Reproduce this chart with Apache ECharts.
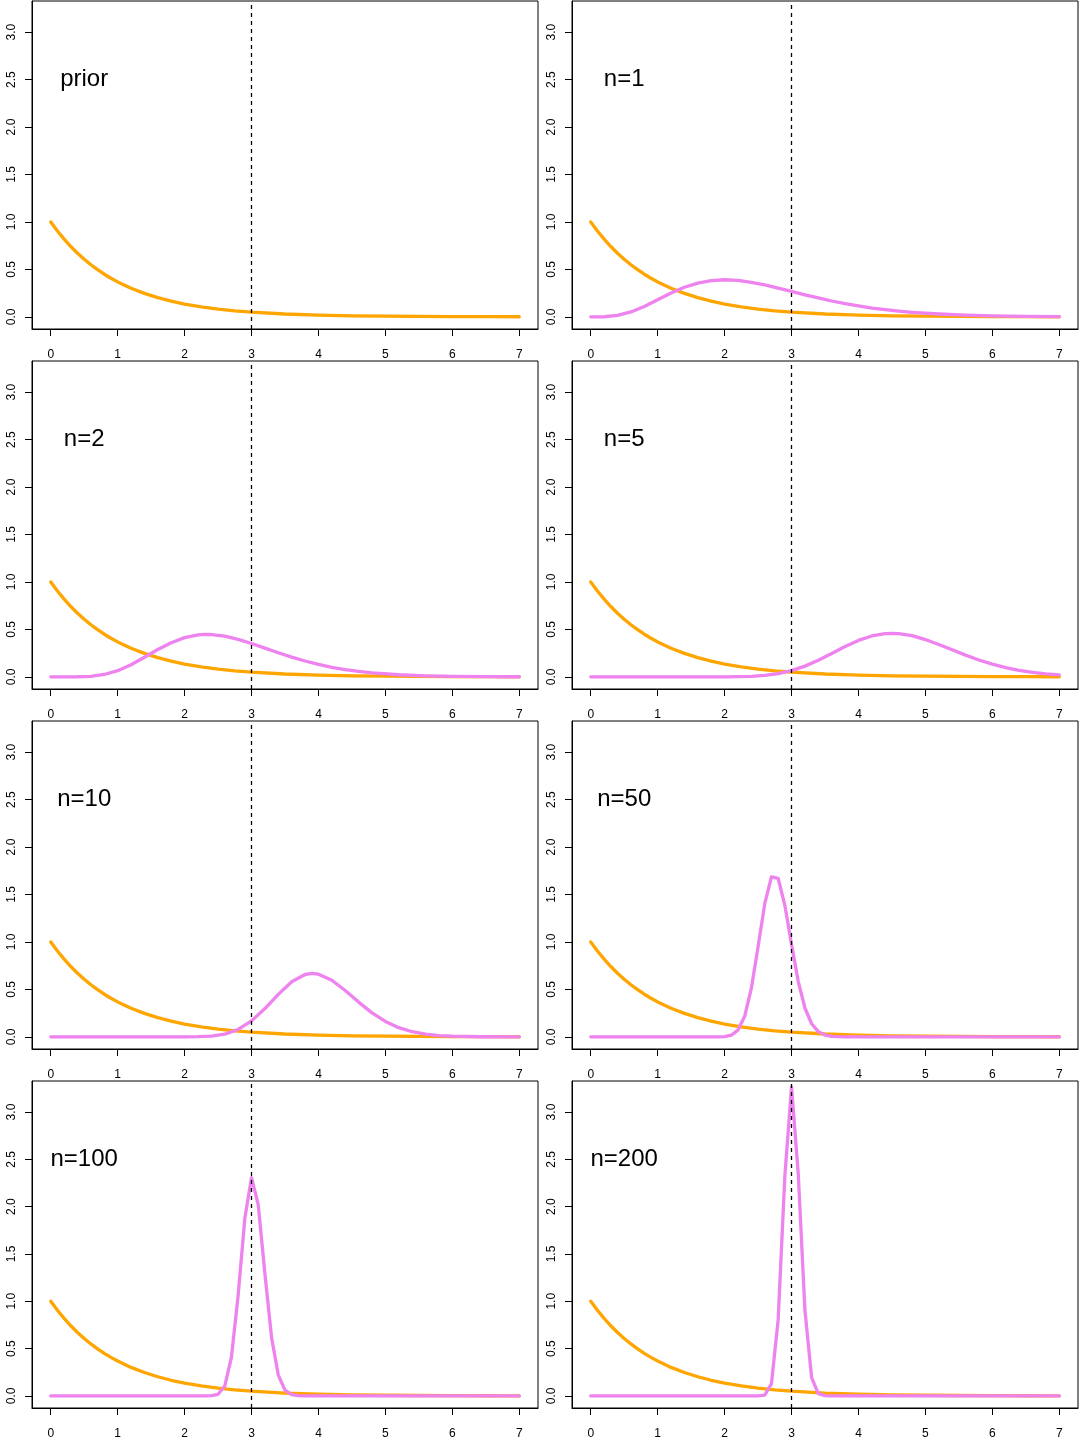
<!DOCTYPE html>
<html>
<head>
<meta charset="utf-8">
<script src="https://cdn.jsdelivr.net/npm/echarts@6/dist/echarts.min.js"></script>
<style>
  html, body { margin: 0; padding: 0; background: #ffffff; }
  #chart { width: 1080px; height: 1440px; }
</style>
</head>
<body>
<div id="chart"></div>
<script>
// ---------------- data ----------------
const xTicks = [0, 1, 2, 3, 4, 5, 6, 7];
const yTicks = [0, 0.5, 1, 1.5, 2, 2.5, 3];
const trueValue = 3;
const panelLabels = ['prior', 'n=1', 'n=2', 'n=5', 'n=10', 'n=50', 'n=100', 'n=200'];
const labelAt = [0.5, 2.5];

const prior = [[0,1.000],[0.1,0.905],[0.2,0.819],[0.3,0.741],[0.4,0.670],[0.5,0.607],[0.6,0.549],[0.7,0.497],[0.8,0.449],[0.9,0.407],[1.0,0.368],[1.2,0.301],[1.4,0.247],[1.6,0.202],[1.8,0.165],[2.0,0.135],[2.25,0.105],[2.5,0.082],[2.75,0.064],[3.0,0.050],[3.5,0.030],[4.0,0.018],[4.5,0.011],[5.0,0.007],[5.5,0.004],[6.0,0.002],[6.5,0.0015],[7.0,0.001]];

const postN1 = [[0,0],[0.2,0.001],[0.4,0.015],[0.6,0.052],[0.8,0.110],[1.0,0.180],[1.2,0.251],[1.4,0.312],[1.6,0.356],[1.8,0.382],[2.0,0.391],[2.2,0.384],[2.4,0.364],[2.6,0.336],[2.8,0.303],[3.0,0.268],[3.2,0.232],[3.4,0.199],[3.6,0.167],[3.8,0.139],[4.0,0.115],[4.2,0.093],[4.4,0.075],[4.6,0.060],[4.8,0.048],[5.2,0.030],[5.6,0.018],[6.0,0.011],[6.5,0.005],[7.0,0.003]];

const postN2 = [[0,0],[0.2,0],[0.4,0.001],[0.6,0.006],[0.8,0.025],[1.0,0.065],[1.2,0.127],[1.4,0.206],[1.6,0.288],[1.8,0.360],[2.0,0.413],[2.2,0.442],[2.3,0.447],[2.4,0.446],[2.6,0.428],[2.8,0.395],[3.0,0.351],[3.2,0.303],[3.4,0.254],[3.6,0.208],[3.8,0.167],[4.0,0.131],[4.2,0.101],[4.4,0.077],[4.6,0.058],[4.8,0.043],[5.2,0.022],[5.6,0.011],[6.0,0.006],[6.5,0.002],[7.0,0.001]];

const postN5 = [[0,0],[1.6,0],[1.8,0.0001],[2.0,0.0005],[2.2,0.002],[2.4,0.006],[2.6,0.015],[2.8,0.034],[3.0,0.066],[3.2,0.113],[3.4,0.174],[3.6,0.246],[3.8,0.319],[4.0,0.384],[4.2,0.431],[4.4,0.456],[4.5,0.459],[4.6,0.456],[4.8,0.434],[5.0,0.393],[5.2,0.341],[5.4,0.285],[5.6,0.229],[5.8,0.178],[6.0,0.134],[6.2,0.098],[6.4,0.069],[6.6,0.048],[6.8,0.032],[7.0,0.021]];

const postN10 = [[0,0],[1.8,0],[2.0,0.0003],[2.2,0.002],[2.4,0.008],[2.6,0.029],[2.8,0.078],[3.0,0.168],[3.2,0.298],[3.4,0.448],[3.6,0.580],[3.8,0.657],[3.9,0.668],[4.0,0.660],[4.2,0.596],[4.4,0.488],[4.6,0.366],[4.8,0.253],[5.0,0.162],[5.2,0.097],[5.4,0.054],[5.6,0.029],[5.8,0.014],[6.0,0.007],[6.4,0.001],[7.0,0]];

const postN50 = [[0,0],[1.8,0],[1.9,0.0004],[2.0,0.003],[2.1,0.017],[2.2,0.071],[2.3,0.217],[2.4,0.513],[2.5,0.949],[2.6,1.403],[2.7,1.686],[2.8,1.671],[2.9,1.386],[3.0,0.973],[3.1,0.585],[3.2,0.304],[3.3,0.138],[3.4,0.055],[3.5,0.019],[3.6,0.006],[3.7,0.002],[3.8,0],[7.0,0]];

const postN100 = [[0,0],[2.3,0],[2.4,0.002],[2.5,0.017],[2.6,0.104],[2.7,0.409],[2.8,1.064],[2.9,1.877],[3.0,2.307],[3.1,2.022],[3.2,1.291],[3.3,0.613],[3.4,0.220],[3.5,0.061],[3.6,0.013],[3.7,0.002],[3.8,0],[7.0,0]];

const postN200 = [[0,0],[2.4,0],[2.5,0.0003],[2.6,0.009],[2.7,0.129],[2.8,0.803],[2.9,2.319],[3.0,3.265],[3.1,2.353],[3.2,0.905],[3.3,0.193],[3.4,0.024],[3.5,0.002],[3.6,0],[7.0,0]];

const posteriors = [null, postN1, postN2, postN5, postN10, postN50, postN100, postN200];

// ---------------- layout / style ----------------
const FONT = '"Liberation Sans", Arial, Helvetica, sans-serif';
const PRIOR_COLOR = '#FFA500';
const POST_COLOR = '#EE82EE';
const X_MIN = -0.28, X_MAX = 7.28;
const Y_MIN = -0.128, Y_MAX = 3.328;

const grids = [], xAxes = [], yAxes = [], series = [];

for (let i = 0; i < 8; i++) {
  const col = i % 2, row = Math.floor(i / 2);
  grids.push({
    left: 32 + 540 * col, top: 1 + 360 * row, width: 506, height: 328,
    show: true, borderColor: '#000', borderWidth: 1, backgroundColor: 'transparent'
  });
  xAxes.push({
    gridIndex: i, type: 'value', min: X_MIN, max: X_MAX,
    axisLine: { show: true, onZero: false, lineStyle: { color: '#000', width: 1 } },
    axisTick: { show: true, length: 7, customValues: xTicks, lineStyle: { color: '#000', width: 1 } },
    axisLabel: { show: true, customValues: xTicks, fontSize: 12, fontFamily: FONT, color: '#000', margin: 20 },
    splitLine: { show: false }
  });
  yAxes.push({
    gridIndex: i, type: 'value', min: Y_MIN, max: Y_MAX,
    axisLine: { show: true, onZero: false, lineStyle: { color: '#000', width: 1 } },
    axisTick: { show: true, length: 7, customValues: yTicks, lineStyle: { color: '#000', width: 1 } },
    axisLabel: { show: true, customValues: yTicks, rotate: 90, fontSize: 12, fontFamily: FONT, color: '#000', margin: 14,
      formatter: v => Number(v).toFixed(1) },
    splitLine: { show: false }
  });

  series.push({
    type: 'line', xAxisIndex: i, yAxisIndex: i, data: prior,
    showSymbol: false, symbol: 'none', silent: true, z: 2,
    lineStyle: { color: PRIOR_COLOR, width: 3.3, cap: 'round', join: 'round' }
  });
  if (posteriors[i]) {
    series.push({
      type: 'line', xAxisIndex: i, yAxisIndex: i, data: posteriors[i],
      showSymbol: false, symbol: 'none', silent: true, z: 3,
      lineStyle: { color: POST_COLOR, width: 3.3, cap: 'round', join: 'round' }
    });
  }
  series.push({
    type: 'line', xAxisIndex: i, yAxisIndex: i, data: [], z: 5, silent: true,
    markLine: {
      silent: true, symbol: ['none', 'none'], animation: false,
      label: { show: false },
      lineStyle: { color: '#000', width: 1.3, type: [4, 4] },
      data: [{ xAxis: trueValue }]
    }
  });
  series.push({
    type: 'scatter', xAxisIndex: i, yAxisIndex: i, data: [labelAt],
    symbol: 'circle', symbolSize: 0, silent: true, z: 6,
    itemStyle: { color: '#000', opacity: 1 },
    label: { show: true, position: 'inside', formatter: panelLabels[i],
      fontSize: 24, fontFamily: FONT, color: '#000', textBorderWidth: 0, opacity: 1 }
  });
}

const chart = echarts.init(document.getElementById('chart'), null, { renderer: 'canvas' });
chart.setOption({
  animation: false,
  backgroundColor: '#ffffff',
  grid: grids, xAxis: xAxes, yAxis: yAxes, series: series
});
</script>
</body>
</html>
